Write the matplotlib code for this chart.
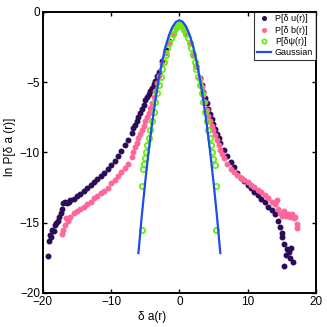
import numpy as np
import matplotlib.pyplot as plt

plt.rcParams['font.family'] = ['Liberation Sans', 'DejaVu Sans']

# P[du(r)] : purple dots (left and right branches)
u_x = [-19.3, -19.1, -19.0, -18.8, -18.6, -18.4, -18.2, -18.0, -17.8, -17.6,
       -17.4, -17.2, -17.0, -16.8, -16.5, -16.2, -16.0, -15.5, -15.0, -14.5,
       -14.0, -13.5, -13.0, -12.5, -12.0, -11.5, -11.0, -10.5, -10.0, -9.5,
       -9.0, -8.5, -8.0, -7.5, -7.0, -6.75, -6.5, -6.25, -6.0, -5.75, -5.5,
       -5.25, -5.0, -4.75, -4.5, -4.25, -4.0, -3.75, -3.5, -3.25, -3.0, -2.5,
       -2.0, -1.5, -1.0, -0.5, 0.0, 0.5, 1.0, 1.5, 2.0, 2.5, 3.0, 3.25, 3.5,
       3.75, 4.0, 4.25, 4.5, 4.75, 5.0, 5.25, 5.5, 5.75, 6.0, 6.5, 7.0, 7.5,
       8.0, 8.5, 9.0, 9.5, 10.0, 10.5, 11.0, 11.5, 12.0, 12.5, 13.0, 13.5,
       14.0, 14.5, 14.8, 15.0, 15.1, 15.3, 15.4, 15.6, 15.8, 16.0, 16.2, 16.4,
       16.6]
u_y = [-17.4, -16.3, -15.9, -16.0, -15.5, -15.6, -15.2, -15.0, -14.9, -14.6,
       -14.3, -14.0, -13.6, -13.5, -13.6, -13.5, -13.4, -13.3, -13.1, -12.95,
       -12.75, -12.55, -12.35, -12.1, -11.9, -11.7, -11.45, -11.2, -10.9,
       -10.6, -10.25, -9.9, -9.5, -9.1, -8.6, -8.3, -8.05, -7.8, -7.5, -7.2,
       -6.9, -6.6, -6.3, -6.05, -5.85, -5.6, -5.4, -5.15, -4.9, -4.6, -4.3,
       -3.5, -2.75, -2.1, -1.6, -1.15, -0.95, -1.15, -1.6, -2.25, -3.0, -3.85,
       -4.7, -5.2, -5.7, -6.1, -6.5, -6.9, -7.3, -7.65, -8.0, -8.35, -8.7,
       -9.0, -9.3, -9.8, -10.25, -10.65, -11.05, -11.45, -11.8, -12.05, -12.3,
       -12.55, -12.8, -13.05, -13.3, -13.55, -13.85, -14.1, -14.4, -14.9,
       -15.3, -15.7, -16.0, -16.5, -18.1, -17.3, -16.9, -17.1, -17.5, -16.8,
       -17.8]

# P[db(r)] : pink dots
b_x = [-17.2, -17.0, -16.8, -16.6, -16.3, -16.0, -15.5, -15.0, -14.5, -14.0,
       -13.5, -13.0, -12.5, -12.0, -11.5, -11.0, -10.5, -10.0, -9.5, -9.0,
       -8.5, -8.0, -7.5, -7.0, -6.75, -6.5, -6.25, -6.0, -5.75, -5.5, -5.25,
       -5.0, -4.75, -4.5, -4.25, -4.0, -3.75, -3.5, -3.25, -3.0, -2.5, -2.0,
       -1.5, -1.0, -0.5, 0.0, 0.5, 1.0, 1.5, 2.0, 2.5, 3.0, 3.25, 3.5, 3.75,
       4.0, 4.25, 4.5, 4.75, 5.0, 5.25, 5.5, 5.75, 6.0, 6.25, 6.5, 7.0, 7.5,
       8.0, 8.5, 9.0, 9.5, 10.0, 10.5, 11.0, 11.5, 12.0, 12.5, 13.0, 13.5,
       14.0, 14.3, 14.5, 14.8, 15.0, 15.3, 15.6, 15.9, 16.2, 16.5, 16.8, 17.0,
       17.2, 17.3]
b_y = [-15.8, -15.5, -15.2, -14.7, -14.9, -14.6, -14.3, -14.2, -14.0, -13.9,
       -13.7, -13.5, -13.25, -13.1, -12.9, -12.75, -12.5, -12.2, -11.95,
       -11.7, -11.4, -11.1, -10.8, -10.3, -9.95, -9.6, -9.3, -9.0, -8.7, -8.4,
       -8.1, -7.8, -7.5, -7.2, -6.85, -6.5, -6.05, -5.6, -5.1, -4.6, -3.7,
       -2.9, -2.2, -1.6, -1.15, -0.95, -1.15, -1.6, -2.25, -3.0, -3.85, -4.8,
       -5.35, -5.9, -6.45, -7.0, -7.4, -7.8, -8.1, -8.4, -8.75, -9.1, -9.45,
       -9.8, -10.1, -10.4, -10.85, -11.15, -11.4, -11.6, -11.8, -11.95, -12.1,
       -12.3, -12.45, -12.65, -12.85, -13.05, -13.25, -13.5, -13.7, -13.4,
       -14.0, -14.3, -14.5, -14.2, -14.5, -14.4, -14.6, -14.4, -14.7, -14.6,
       -15.1, -15.4]

# P[dpsi(r)] : green open circles
psi_x = [-5.5, -5.4, -5.3, -5.15, -5.0, -4.85, -4.7, -4.5, -4.25, -4.0, -3.75,
         -3.5, -3.25, -3.0, -2.75, -2.5, -2.25, -2.0, -1.75, -1.5, -1.25,
         -1.0, -0.75, -0.5, -0.25, 0.0, 0.25, 0.5, 0.75, 1.0, 1.25, 1.5, 1.75,
         2.0, 2.25, 2.5, 2.75, 3.0, 3.25, 3.5, 3.75, 4.0, 4.25, 4.5, 4.7,
         4.85, 5.0, 5.15, 5.3, 5.4]
psi_y = [-15.5, -12.4, -11.2, -10.8, -10.4, -10.0, -9.5, -9.0, -8.4, -7.8,
         -7.1, -6.45, -5.8, -5.2, -4.65, -4.1, -3.55, -3.05, -2.6, -2.2,
         -1.85, -1.55, -1.3, -1.1, -0.98, -0.95, -0.98, -1.1, -1.3, -1.55,
         -1.85, -2.2, -2.6, -3.05, -3.55, -4.1, -4.65, -5.2, -5.8, -6.45,
         -7.1, -7.8, -8.4, -9.0, -9.5, -10.0, -10.5, -10.9, -12.4, -15.5]

# Gaussian reference
g_x = [-6.0, -5.5, -5.0, -4.5, -4.0, -3.5, -3.0, -2.5, -2.0, -1.5, -1.0,
       -0.5, 0.0, 0.5, 1.0, 1.5, 2.0, 2.5, 3.0, 3.5, 4.0, 4.5, 5.0, 5.5, 6.0]
g_y = [-17.16, -14.5, -12.1, -9.92, -7.96, -6.24, -4.74, -3.48, -2.44, -1.64,
       -1.06, -0.72, -0.6, -0.72, -1.06, -1.64, -2.44, -3.48, -4.74, -6.24,
       -7.96, -9.92, -12.1, -14.5, -17.16]

fig = plt.figure(figsize=(3.27, 3.27), dpi=100)
ax = fig.add_axes([0.131, 0.104, 0.835, 0.860])

ax.plot(u_x, u_y, '.', color='#2b0c57', ms=6.5, label='P[δ u(r)]')
ax.plot(b_x, b_y, '.', color='#ff6699', ms=6.5, label='P[δ b(r)]')
ax.plot(psi_x, psi_y, 'o', mfc='none', mec='#66ee11', mew=1.3, ms=3.8,
        label='P[δψ(r)]')
ax.plot(g_x, g_y, '-', color='#1f4af0', lw=1.6, label='Gaussian')

ax.set_xlim(-20, 20)
ax.set_ylim(-20, 0)
ax.set_xticks([-20, -10, 0, 10, 20])
ax.set_yticks([-20, -15, -10, -5, 0])
ax.tick_params(direction='in', top=True, right=True, length=3, width=1,
               labelsize=8.5, pad=2)
for s in ax.spines.values():
    s.set_linewidth(1.4)

ax.set_xlabel('δ a(r)', fontsize=8.5)
ax.xaxis.set_label_coords(0.40, -0.065)
ax.set_ylabel('ln P[δ a (r)]', fontsize=8.5)
ax.yaxis.set_label_coords(-0.10, 0.52)

leg = ax.legend(loc='upper right', fontsize=6.5, frameon=True, fancybox=False,
                edgecolor='black', borderpad=0.3, labelspacing=0.25,
                handlelength=1.6, handletextpad=0.4, borderaxespad=0.0,
                markerscale=0.8)
leg.get_frame().set_linewidth(0.8)

fig.savefig('out.png', dpi=100)
